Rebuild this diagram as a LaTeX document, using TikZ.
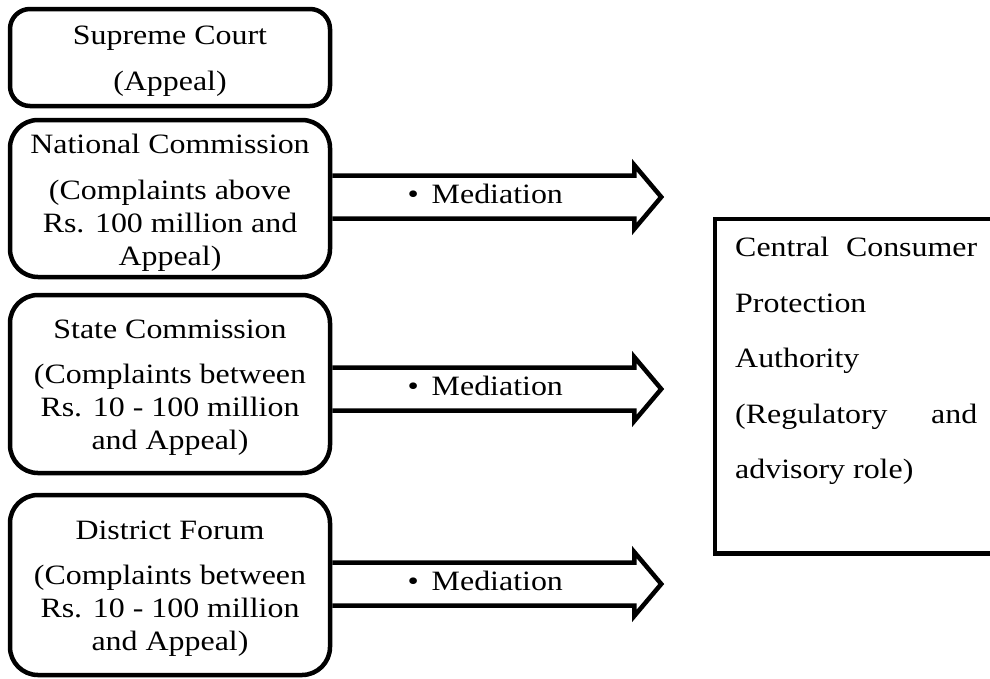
\documentclass[tikz,border=0pt]{standalone}
\usepackage{fontspec}
\setmainfont[FakeStretch=1.14]{Liberation Serif}
\usetikzlibrary{calc}
\begin{document}
\begin{tikzpicture}[x=1pt,y=-1pt,
  box/.style={draw, line width=4.5pt, rounded corners=28pt, minimum width=320pt, inner sep=0pt},
  boxtext/.style={align=center, inner sep=0pt, anchor=base, font=\fontsize{28}{33}\selectfont},
  medarrow/.pic={
    \draw[line width=4.5pt, line join=miter, miter limit=20]
      (0,-21.5) -- (302,-21.5) -- (302,-32) -- (329,0) -- (302,32) -- (302,21.5) -- (0,21.5);
    \node[anchor=base, inner sep=0pt, font=\fontsize{28}{33}\selectfont] (-lbl) at (153,6.5) {•\hspace{13pt}Mediation};
  }]
\useasboundingbox (0,0) rectangle (990,678);
\clip (0,0) rectangle (990,678);

% left column boxes
\node[box, rounded corners=20pt, minimum height=97pt] (sc) at (170,57.5) {};
\node[box, minimum height=157pt] (nc) at (170,198.5) {};
\node[box, minimum height=178pt] (stc) at (170,384) {};
\node[box, minimum height=180pt] (df) at (170,585) {};

% box texts (base anchor = baseline of the last line)
\node[boxtext] (sctxt) at (170,90) {Supreme Court\\[13pt](Appeal)};
\node[boxtext] (nctxt) at (170,265) {National Commission\\[13pt](Complaints above\\Rs. 100 million and\\Appeal)};
\node[boxtext] (stctxt) at (170,449) {State Commission\\[12pt](Complaints between\\Rs. 10 - 100 million\\and Appeal)};
\node[boxtext] (dftxt) at (170,650) {District Forum\\[12pt](Complaints between\\Rs. 10 - 100 million\\and Appeal)};

% mediation arrows
\pic (m1) at ($(nc.east)+(0,-1.5)$) {medarrow};
\pic (m2) at ($(stc.east)+(0,5)$) {medarrow};
\pic (m3) at ($(df.east)+(0,-1)$) {medarrow};

% authority box
\node[draw, line width=4.5pt, anchor=north west, minimum width=330pt, minimum height=334.5pt, inner sep=0pt] (cca) at (712.5,216.5) {};
\node[anchor=base west, align=left, inner sep=0pt, font=\fontsize{28}{55.5}\selectfont] (ccatxt) at (735,478.5)
  {\makebox[242pt][s]{Central Consumer}\\Protection\\Authority\\\makebox[242pt][s]{(Regulatory and}\\advisory role)};
\end{tikzpicture}
\end{document}
